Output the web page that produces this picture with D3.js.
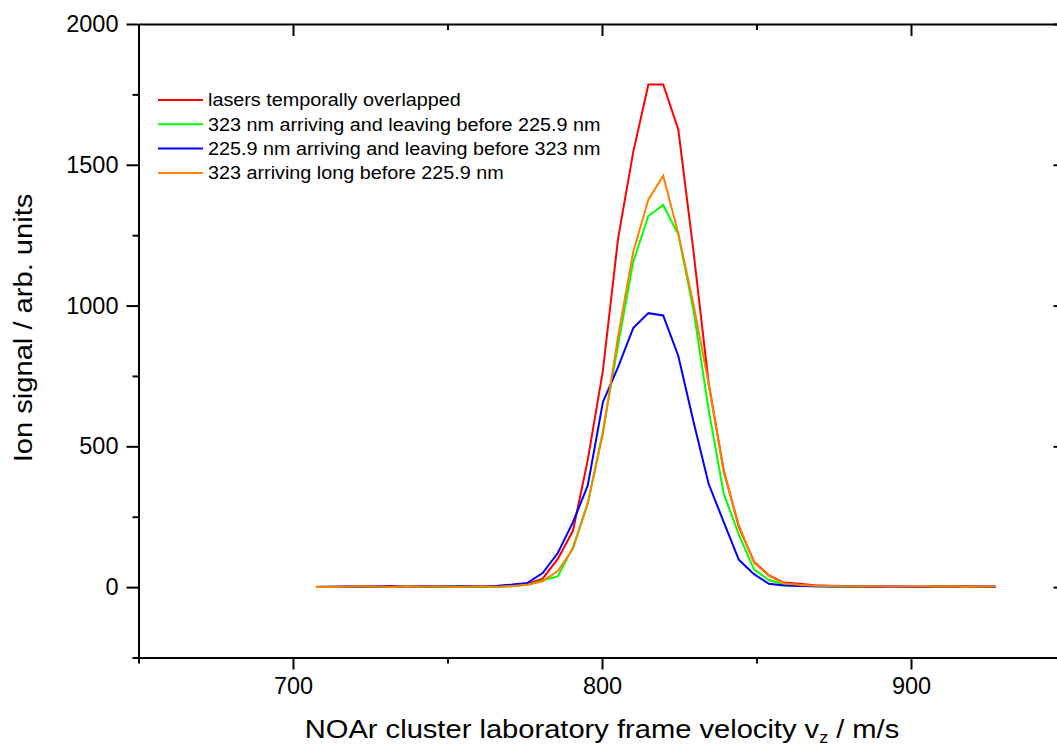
<!DOCTYPE html>
<html>
<head>
<meta charset="utf-8">
<script src="https://cdn.jsdelivr.net/npm/d3@7"></script>
<style>
  html, body { margin: 0; padding: 0; background: #fff; }
  svg { display: block; }
  text { font-family: "Liberation Sans", Arial, sans-serif; fill: #000; }
</style>
</head>
<body>
<svg id="chart" width="1057" height="746"></svg>
<script>
// ---- data ----
const velocity = [707.5, 712.4, 717.3, 722.2, 727.0, 731.9, 736.8, 741.7, 746.6, 751.5,
                  756.4, 761.2, 766.1, 771.0, 775.9, 780.8, 785.7, 790.6, 795.4, 800.3,
                  805.2, 810.1, 815.0, 819.8, 824.7, 829.6, 834.5, 839.4, 844.3, 849.2,
                  854.0, 858.9, 863.8, 868.7, 873.6, 878.5, 883.4, 888.2, 893.1, 898.0,
                  902.9, 907.8, 912.7, 917.6, 922.4, 927.3];

const redOverlap = [1, 0, 2, 3, 2, 4, 1, 3, 2, 1, 3, 4, 2, 4, 12, 30, 100, 200, 452, 770,
                    1238, 1545, 1785, 1785, 1625, 1193, 725, 414, 213, 90,
                    42, 16, 12, 7, 5, 4, 3, 4, 2, 3, 1, 3, 2, 3, 2, 3];
const green323First = [0, 1, 0, 2, 1, 0, 2, 1, 0, 2, 1, 0, 1, 3, 8, 24, 38, 142, 295, 555,
                       860, 1155, 1318, 1357, 1252, 985, 630, 332, 186, 63,
                       25, 10, 5, 3, 2, 1, 2, 1, 0, 1, 0, 1, 0, 1, 0, 1];
const blue2259First = [0, 1, 2, 1, 3, 2, 1, 2, 3, 2, 4, 3, 5, 9, 15, 50, 121, 231, 361, 657,
                       781, 920, 973, 965, 821, 588, 367, 231, 97, 46,
                       12, 6, 4, 3, 2, 2, 1, 0, 1, 0, 1, 0, 1, 0, 1, 0];
const orangeLong = [0, 0, 1, 3, 2, 0, 2, 1, 3, 0, 2, 3, 1, 4, 8, 21, 57, 136, 300, 545,
                    890, 1190, 1376, 1461, 1255, 1005, 722, 408, 219, 87,
                    40, 14, 8, 5, 4, 3, 2, 3, 1, 2, 3, 1, 2, 0, 1, 2];

const seriesNames = ["lasers temporally overlapped",
                     "323 nm arriving and leaving before 225.9 nm",
                     "225.9 nm arriving and leaving before 323 nm",
                     "323 arriving long before 225.9 nm"];
const seriesColors = ["#ff0000", "#00ff00", "#0000ff", "#ff8000"];
const seriesValues = [redOverlap, green323First, blue2259First, orangeLong];

const xTicks = [700, 800, 900];
const xMinorTicks = [650, 750, 850, 950];
const yTicks = [0, 500, 1000, 1500, 2000];
const yMinorTicks = [-250, 250, 750, 1250, 1750];

// ---- layout ----
const svg = d3.select("#chart");
const L = 138.5, R = 1065.5, T = 24, B = 657.5;
const stretch = 1.1;   // the reference glyphs are slightly wider than Liberation Sans

const x = d3.scaleLinear().domain([650, 950]).range([L, R]);
const y = d3.scaleLinear().domain([-250, 2000]).range([B, T]);

function styleAxis(g) {
  g.selectAll("path.domain").attr("stroke", "#000").attr("stroke-width", 2);
  g.selectAll(".tick line").attr("stroke", "#000").attr("stroke-width", 2);
  g.selectAll(".tick text").style("font-family", '"Liberation Sans", Arial, sans-serif')
    .style("font-size", "23.5px").attr("fill", "#000");
}

// bottom axis
const gb = svg.append("g").attr("transform", `translate(0,${B})`)
  .call(d3.axisBottom(x).tickValues(xTicks).tickSize(12).tickSizeOuter(0).tickPadding(8).tickFormat(d3.format("d")));
styleAxis(gb);
svg.append("g").attr("transform", `translate(0,${B})`)
  .call(d3.axisBottom(x).tickValues(xMinorTicks).tickSize(6).tickFormat(""))
  .call(g => { g.select("path.domain").remove(); styleAxis(g); });

// top axis (inward ticks)
svg.append("g").attr("transform", `translate(0,${T})`)
  .call(d3.axisBottom(x).tickValues(xTicks).tickSize(12).tickSizeOuter(0).tickFormat(""))
  .call(styleAxis);
svg.append("g").attr("transform", `translate(0,${T})`)
  .call(d3.axisBottom(x).tickValues(xMinorTicks).tickSize(6).tickFormat(""))
  .call(g => { g.select("path.domain").remove(); styleAxis(g); });

// left axis
const gl = svg.append("g").attr("transform", `translate(${L},0)`)
  .call(d3.axisLeft(y).tickValues(yTicks).tickSize(12).tickSizeOuter(0).tickPadding(8).tickFormat(d3.format("d")));
styleAxis(gl);
svg.append("g").attr("transform", `translate(${L},0)`)
  .call(d3.axisLeft(y).tickValues(yMinorTicks).tickSize(6).tickFormat(""))
  .call(g => { g.select("path.domain").remove(); styleAxis(g); });

// right axis (inward ticks)
svg.append("g").attr("transform", `translate(${R},0)`)
  .call(d3.axisLeft(y).tickValues(yTicks).tickSize(12).tickSizeOuter(0).tickFormat(""))
  .call(styleAxis);
svg.append("g").attr("transform", `translate(${R},0)`)
  .call(d3.axisLeft(y).tickValues(yMinorTicks).tickSize(6).tickFormat(""))
  .call(g => { g.select("path.domain").remove(); styleAxis(g); });

// lines
const line = d3.line().x((d, i) => x(velocity[i])).y(d => y(d));
seriesValues.forEach((vals, k) => {
  svg.append("path")
    .datum(vals)
    .attr("fill", "none")
    .attr("stroke", seriesColors[k])
    .attr("stroke-width", 2)
    .attr("stroke-linejoin", "miter")
    .attr("d", line);
});

// legend
const legend = svg.append("g");
seriesNames.forEach((name, k) => {
  const yy = 100 + k * 24.3;
  legend.append("line")
    .attr("x1", 158).attr("x2", 203).attr("y1", yy).attr("y2", yy)
    .attr("stroke", seriesColors[k]).attr("stroke-width", 2);
  legend.append("text")
    .attr("transform", `translate(208,${yy}) scale(1.07,1)`)
    .attr("dy", "0.35em")
    .style("font-size", "18.5px")
    .text(name);
});

// axis titles
const xt = svg.append("text")
  .attr("transform", `translate(602,738) scale(${stretch + 0.02},1)`)
  .attr("text-anchor", "middle")
  .style("font-size", "26px");
xt.append("tspan").text("NOAr cluster laboratory frame velocity v");
xt.append("tspan").attr("dy", 5).style("font-size", "16px").text("z");
xt.append("tspan").attr("dy", -5).text(" / m/s");

svg.append("text")
  .attr("transform", `translate(32,328) rotate(-90) scale(${stretch + 0.02},1)`)
  .attr("text-anchor", "middle")
  .style("font-size", "26px")
  .text("Ion signal / arb. units");
</script>
</body>
</html>
